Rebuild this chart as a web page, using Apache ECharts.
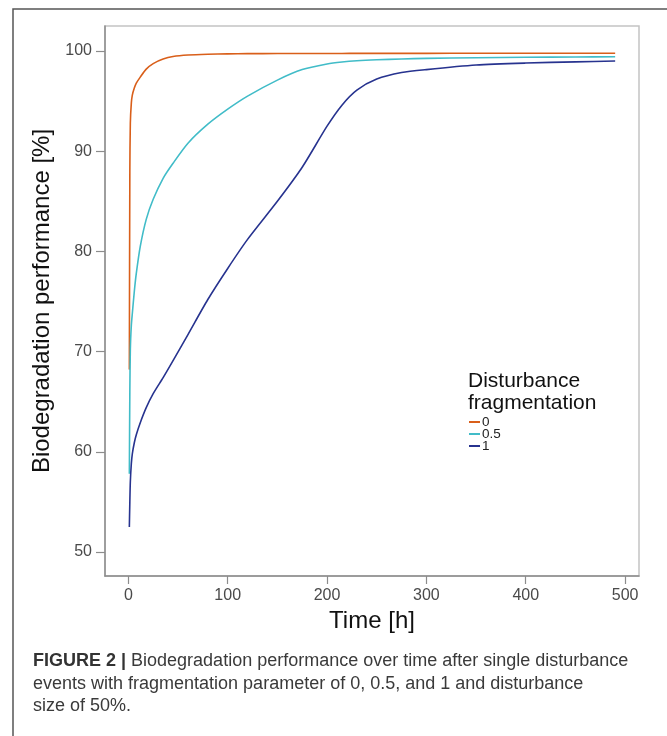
<!DOCTYPE html>
<html>
<head>
<meta charset="utf-8">
<title>Biodegradation performance</title>
<script src="https://cdn.jsdelivr.net/npm/echarts@6/dist/echarts.min.js"></script>
<style>
    html, body { margin: 0; padding: 0; background: #fff; }
    #chart { width: 667px; height: 736px; }
</style>
</head>
<body>
<div id="chart"></div>
<script>
    // time points [h]
    var timeH = [1, 1.5, 2, 3, 4, 6, 8, 12, 18, 25, 35, 45, 60, 80, 100, 120, 150, 175, 200, 215, 230, 250, 275, 300, 350, 400, 450, 490];
    // biodegradation performance [%] per fragmentation parameter
    var frag0 = [68.2, 88.0, 92.8, 94.8, 95.6, 96.3, 96.8, 97.4, 98.2, 98.75, 99.2, 99.45, 99.6, 99.68, 99.72, 99.74, 99.75, 99.76, 99.76, 99.76, 99.77, 99.77, 99.77, 99.77, 99.78, 99.78, 99.78, 99.78];
    var frag05 = [57.8, 66.0, 70.2, 72.6, 73.8, 76.0, 77.8, 80.5, 83.2, 85.2, 87.3, 88.8, 90.8, 92.7, 94.2, 95.5, 97.1, 98.15, 98.7, 98.9, 99.03, 99.13, 99.21, 99.27, 99.33, 99.38, 99.41, 99.43];
    var frag1 = [52.5, 55.0, 57.0, 58.8, 59.8, 60.9, 61.7, 62.9, 64.4, 65.8, 67.4, 69.1, 71.7, 75.2, 78.3, 81.2, 85.0, 88.4, 92.5, 94.6, 96.1, 97.2, 97.85, 98.15, 98.6, 98.8, 98.92, 99.0];
    var seriesNames = ['0', '0.5', '1'];
    var xTicks = [0, 100, 200, 300, 400, 500];
    var yTicks = [50, 60, 70, 80, 90, 100];

    var colors = ['#d95f1a', '#41bcc8', '#27338f'];
    var fontMain = '"Liberation Sans", Arial, sans-serif';

    function pairs(xs, ys) {
        return xs.map(function (x, i) { return [x, ys[i]]; });
    }

    var chart = echarts.init(document.getElementById('chart'), null, { renderer: 'canvas' });

    var option = {
        animation: false,
        color: colors,
        title: {
            text: 'Disturbance\nfragmentation',
            left: 468,
            top: 370,
            padding: 0,
            textStyle: {
                fontFamily: fontMain,
                fontSize: 21,
                fontWeight: 'normal',
                color: '#111',
                lineHeight: 22
            }
        },
        legend: {
            data: seriesNames,
            orient: 'vertical',
            left: 469,
            top: 415,
            padding: 0,
            itemGap: -2,
            itemWidth: 11,
            itemHeight: 2,
            icon: 'rect',
            textStyle: {
                fontFamily: fontMain,
                fontSize: 13.5,
                color: '#222',
                padding: [0, 0, 0, -3]
            }
        },
        grid: {
            left: 105,
            right: 28,
            top: 26,
            bottom: 160,
            show: true,
            borderColor: '#c4c4c4',
            borderWidth: 1.5,
            containLabel: false
        },
        xAxis: {
            type: 'value',
            min: -23.5,
            max: 514,
            name: 'Time [h]',
            nameLocation: 'middle',
            nameGap: 27,
            nameTextStyle: { fontFamily: fontMain, fontSize: 24, color: '#111' },
            axisLine: { show: true, onZero: false, lineStyle: { color: '#8c8c8c', width: 1.5 } },
            axisTick: { show: true, length: 8, customValues: xTicks, lineStyle: { color: '#8c8c8c', width: 1.2 } },
            axisLabel: {
                customValues: xTicks,
                margin: 12,
                fontFamily: fontMain,
                fontSize: 16,
                color: '#4a4a4a'
            },
            splitLine: { show: false }
        },
        yAxis: {
            type: 'value',
            min: 47.6,
            max: 102.5,
            name: 'Biodegradation performance [%]',
            nameLocation: 'middle',
            nameGap: 44,
            nameTextStyle: { fontFamily: fontMain, fontSize: 24, color: '#111' },
            axisLine: { show: true, onZero: false, lineStyle: { color: '#8c8c8c', width: 1.5 } },
            axisTick: { show: true, length: 9, customValues: yTicks, lineStyle: { color: '#8c8c8c', width: 1.2 } },
            axisLabel: {
                customValues: yTicks,
                margin: 13,
                fontFamily: fontMain,
                fontSize: 16,
                color: '#4a4a4a'
            },
            splitLine: { show: false }
        },
        series: [
            { name: seriesNames[0], type: 'line', data: pairs(timeH, frag0) },
            { name: seriesNames[1], type: 'line', data: pairs(timeH, frag05) },
            { name: seriesNames[2], type: 'line', data: pairs(timeH, frag1) }
        ].map(function (s) {
            s.showSymbol = false;
            s.smooth = 0.25;
            s.lineStyle = { width: 1.6 };
            return s;
        }),
        graphic: [
            // outer figure frame (top and left)
            {
                type: 'polyline',
                shape: { points: [[13, 736], [13, 9], [667, 9]] },
                style: { stroke: '#555', lineWidth: 1.5, fill: null },
                silent: true
            },
            {
                type: 'text',
                left: 33,
                top: 650,
                style: {
                    text: '{b|FIGURE 2 |} Biodegradation performance over time after single disturbance\nevents with fragmentation parameter of 0, 0.5, and 1 and disturbance\nsize of 50%.',
                    font: '18px "Liberation Sans", Arial, sans-serif',
                    fill: '#3a3a3a',
                    lineHeight: 22.5,
                    rich: {
                        b: { font: 'bold 18px "Liberation Sans", Arial, sans-serif', fill: '#333', lineHeight: 22.5 }
                    }
                },
                silent: true
            }
        ]
    };

    chart.setOption(option);
    window.addEventListener('resize', chart.resize);
</script>
</body>
</html>
